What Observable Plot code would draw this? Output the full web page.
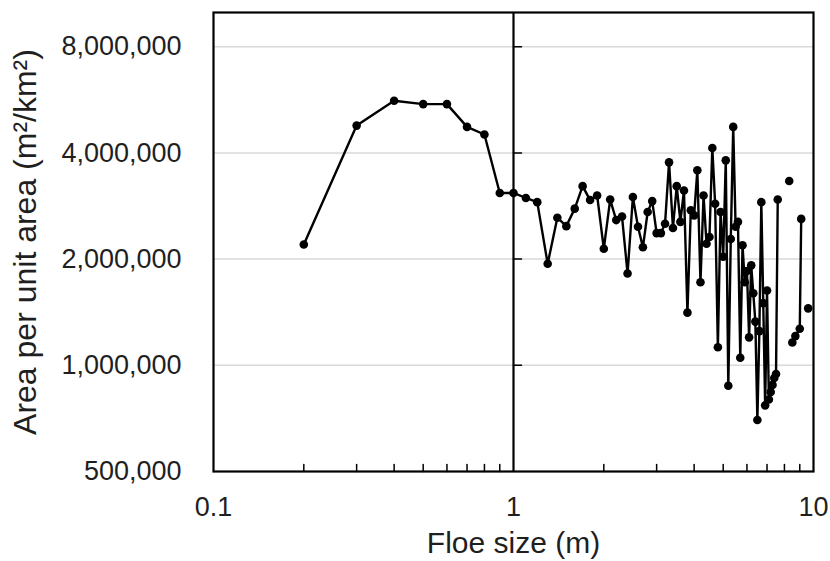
<!DOCTYPE html>
<html>
<head>
<meta charset="utf-8">
<script src="https://cdn.jsdelivr.net/npm/d3@7"></script>
<script src="https://cdn.jsdelivr.net/npm/@observablehq/plot@0.6"></script>
<style>
  html, body { margin: 0; padding: 0; background: #fff; }
  #chart svg { display: block; }
</style>
</head>
<body>
<div id="chart"></div>
<script>
// Floe size (m)
const floeSize = [0.2,0.3,0.4,0.5,0.6,0.7,0.8,0.9,
  1.0,1.1,1.2,1.3,1.4,1.5,1.6,1.7,1.8,1.9,
  2.0,2.1,2.2,2.3,2.4,2.5,2.6,2.7,2.8,2.9,
  3.0,3.1,3.2,3.3,3.4,3.5,3.6,3.7,3.8,3.9,
  4.0,4.1,4.2,4.3,4.4,4.5,4.6,4.7,4.8,4.9,
  5.0,5.1,5.2,5.3,5.4,5.5,5.6,5.7,5.8,5.9,
  6.0,6.1,6.2,6.3,6.4,6.5,6.6,6.7,6.8,6.9,
  7.0,7.1,7.2,7.3,7.4,7.5,7.6,7.7,
  8.3,8.4,8.5,8.7,9.0,9.1,9.3,9.6];
// Area per unit area (m²/km²); null = no data (gap in line)
const areaPerUnit = [2.2e6,4.78e6,5.62e6,5.5e6,5.5e6,4.74e6,4.51e6,3.08e6,
  3.08e6,2.98e6,2.9e6,1.94e6,2.62e6,2.48e6,2.78e6,3.22e6,2.94e6,3.03e6,
  2.14e6,2.95e6,2.58e6,2.64e6,1.82e6,3.0e6,2.47e6,2.16e6,2.72e6,2.92e6,
  2.37e6,2.37e6,2.52e6,3.76e6,2.45e6,3.22e6,2.55e6,3.13e6,1.41e6,2.75e6,
  2.66e6,3.57e6,1.72e6,3.03e6,2.21e6,2.31e6,4.13e6,2.87e6,1.125e6,2.72e6,
  2.03e6,3.81e6,0.875e6,2.28e6,4.74e6,2.47e6,2.55e6,1.05e6,2.19e6,1.72e6,
  1.85e6,1.2e6,1.92e6,1.6e6,1.33e6,0.70e6,1.25e6,2.9e6,1.5e6,0.77e6,
  1.63e6,0.80e6,0.84e6,0.88e6,0.92e6,0.945e6,2.95e6,null,
  3.33e6,null,1.16e6,1.21e6,1.27e6,2.6e6,null,1.45e6];

const yTicks = [500000, 1000000, 2000000, 4000000, 8000000];
const yGrid = [1000000, 2000000, 4000000, 8000000];
const xLabels = [0.1, 1, 10];
const xMinor = [0.2,0.3,0.4,0.5,0.6,0.7,0.8,0.9,2,3,4,5,6,7,8,9];

const data = floeSize.map((x, i) => ({x, y: areaPerUnit[i]}));

const lineShape = {
  draw(context, l) { context.moveTo(0, 0); context.lineTo(0, -l); }
};

const font = "Liberation Sans, Arial, sans-serif";

const chart = Plot.plot({
  width: 830,
  height: 561,
  marginLeft: 213,
  marginRight: 17,
  marginTop: 12,
  marginBottom: 90,
  style: { fontFamily: font, background: "#fff", color: "#1f1f1f" },
  x: { type: "log", domain: [0.1, 10] },
  y: { type: "log", domain: [500000, 10000000] },
  marks: [
    Plot.gridY(yGrid, { stroke: "#d9d9d9", strokeOpacity: 1, strokeWidth: 1.5 }),
    Plot.axisY(yTicks, {
      anchor: "left", tickSize: 0, tickPadding: 32, fontSize: 27,
      tickFormat: d3.format(","), label: null
    }),
    Plot.axisX(xLabels, {
      anchor: "bottom", tickSize: 0, tickPadding: 25, fontSize: 27,
      tickFormat: d => String(d), label: null
    }),
    Plot.vector(xMinor, { x: d => d, y: () => 500000, length: 7, rotate: 0, anchor: "start",
      shape: lineShape, stroke: "#000", strokeWidth: 1.5 }),
    Plot.ruleX([1], { stroke: "#000", strokeWidth: 2.2 }),
    Plot.vector(yGrid, { x: () => 1, y: d => d, length: 8, rotate: 90, anchor: "start",
      shape: lineShape, stroke: "#000", strokeWidth: 1.5 }),
    Plot.line(data, { x: "x", y: "y", stroke: "#000", strokeWidth: 2.4 }),
    Plot.dot(data.filter(d => d.y != null), { x: "x", y: "y", r: 4.3, fill: "#000", stroke: "none" }),
    Plot.frame({ stroke: "#000", strokeWidth: 2.2 }),
    Plot.text(["Floe size (m)"], { frameAnchor: "bottom", dy: 72, text: d => d, fontSize: 30,
      textAnchor: "middle", lineAnchor: "middle", fill: "#1f1f1f" }),
    Plot.text(["Area per unit area (m²/km²)"], { frameAnchor: "left", dx: -188, dy: 0, rotate: -90,
      textAnchor: "middle", lineAnchor: "middle", text: d => d, fontSize: 32, fill: "#1f1f1f" })
  ]
});

document.getElementById("chart").appendChild(chart);
</script>
</body>
</html>
